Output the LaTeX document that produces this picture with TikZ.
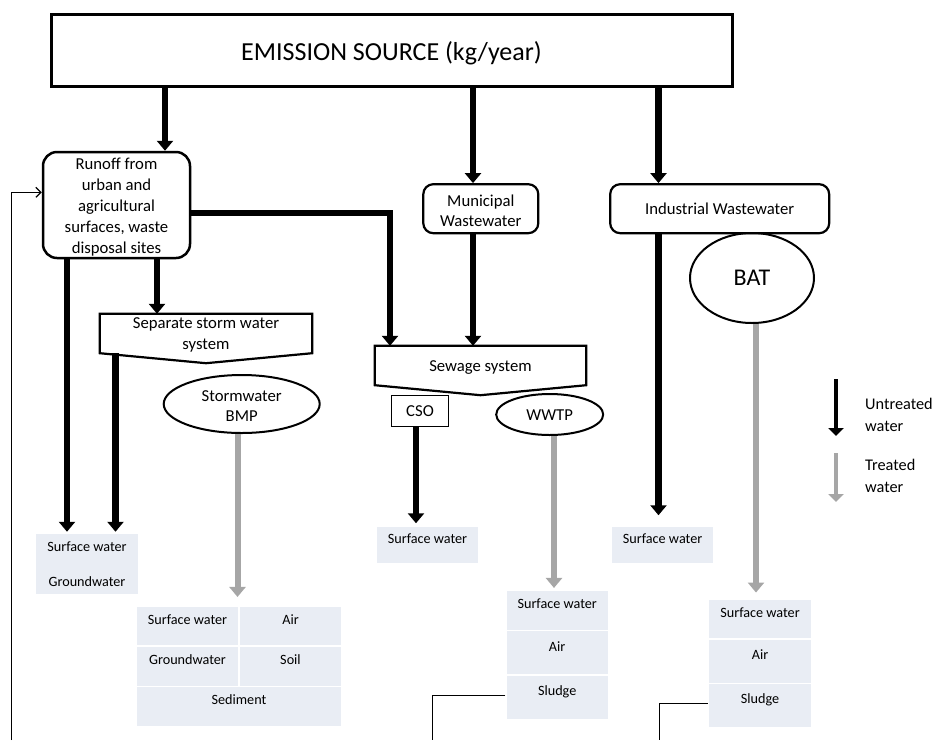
\documentclass[tikz,border=0pt]{standalone}
\usepackage{fontspec}
\setmainfont{Carlito}
\usetikzlibrary{arrows.meta,shapes.geometric,calc}
\definecolor{cellcol}{RGB}{233,237,244}
\definecolor{treat}{RGB}{166,166,166}
\begin{document}
\begin{tikzpicture}[x=1pt,y=-1pt,
  box/.style={draw, line width=2.2pt, inner sep=0pt, align=center, font=\fontsize{16.7}{21}\selectfont},
  rbox/.style={box, rounded corners=10pt},
  one/.style={text height=11pt, text depth=0pt},
  plain/.style={inner sep=0pt, align=center, font=\fontsize{16.7}{21}\selectfont},
  oval/.style={ellipse, draw, line width=2pt, inner sep=0pt, align=center, font=\fontsize{16.7}{20}\selectfont},
  cell/.style={fill=cellcol, draw=white, line width=1.5pt, inner sep=0pt, font=\fontsize{14.2}{17}\selectfont, text height=10pt, text depth=13.5pt},
  blk/.style={line width=6.7pt, -{Triangle[width=16pt,length=10pt]}},
  gry/.style={line width=6pt, treat, -{Triangle[width=16pt,length=10pt]}},
  legtip/.style={line width=4.3pt, -{Triangle[width=15pt,length=8pt]}},
  legtext/.style={inner sep=0pt, align=left, anchor=west, font=\fontsize{16.3}{22}\selectfont},
  thinline/.style={line width=1.2pt}
]
\useasboundingbox (0,0) rectangle (935,740);

% main boxes
\node[box, line width=3pt, minimum width=681pt, minimum height=72pt, font=\fontsize{26}{30}\selectfont, text height=20.8pt, text depth=0pt] (top) at (391.5,50) {EMISSION SOURCE (kg/year)};
\node[rbox, line width=2.5pt, rounded corners=14pt, minimum width=147pt, minimum height=106pt] (runoff) at (116.5,205) {};
\node[plain] (runoffT) at ([yshift=-2.5pt]runoff.center) {Runoff from\\urban and\\agricultural\\surfaces, waste\\disposal sites};
\node[rbox, minimum width=115pt, minimum height=49pt] (municipal) at (480.8,208.7) {};
\node[plain, font=\fontsize{16.7}{20.7}\selectfont] (municipalT) at ([yshift=-2pt]municipal.center) {Municipal\\Wastewater};
\node[rbox, one, minimum width=219pt, minimum height=49pt] (industrial) at (719.7,208.7) {Industrial Wastewater};

% pentagon-like boxes
\node[plain, minimum width=212pt, minimum height=39pt] (sep) at (206,333.5) {};
\node[plain] (sepT) at ([yshift=-1pt]sep.center) {Separate storm water\\system};
\draw[line width=2.2pt] (sep.north west) -- (sep.north east) -- (sep.south east) -- ($(sep.south)+(0,10)$) -- (sep.south west) -- cycle;
\node[plain, one, minimum width=211pt, minimum height=39pt] (sewage) at (480.5,365.5) {Sewage system};
\draw[line width=2.2pt] (sewage.north west) -- (sewage.north east) -- (sewage.south east) -- ($(sewage.south)+(0,10)$) -- (sewage.south west) -- cycle;

% treatment
\node[oval, minimum width=156pt, minimum height=58pt] (bmp) at (241.7,404) {};
\node[plain, font=\fontsize{16.7}{20}\selectfont] (bmpT) at ([yshift=-2pt]bmp.center) {Stormwater\\BMP};
\node[draw, one, line width=1.3pt, minimum width=56.6pt, minimum height=31pt, inner sep=0pt, font=\fontsize{16.7}{20}\selectfont] (cso) at (420,411.2) {CSO};
\node[oval, one, minimum width=107pt, minimum height=41pt] (wwtp) at (549.7,414.5) {WWTP};
\node[oval, minimum width=124pt, minimum height=90pt, font=\fontsize{24}{28}\selectfont, text height=15.5pt, text depth=0pt] (bat) at (752,278) {BAT};

% receiving compartments
\node[fill=cellcol, inner sep=0pt, minimum width=102pt, minimum height=60.5pt, align=center, font=\fontsize{14.2}{34.3}\selectfont] (leftcell) at (87,564.2) {Surface water\\Groundwater};
\node[cell, minimum width=101.8pt, minimum height=38pt] (csocell) at (427.5,545) {Surface water};
\node[cell, minimum width=101.8pt, minimum height=38pt] (indcell) at (662.6,545) {Surface water};

\node[cell, minimum width=103pt, minimum height=39.3pt] (bmpA) at (187.5,626.35) {Surface water};
\node[cell, minimum width=103pt, minimum height=39.3pt] (bmpB) at (290.5,626.35) {Air};
\node[cell, minimum width=103pt, minimum height=40.7pt] (bmpC) at (187.5,666.35) {Groundwater};
\node[cell, minimum width=103pt, minimum height=40.7pt] (bmpD) at (290.5,666.35) {Soil};
\node[cell, minimum width=206pt, minimum height=40pt] (bmpE) at (239,706.7) {Sediment};

\node[cell, minimum width=102.3pt, minimum height=40pt] (wwtpA) at (557.2,610.7) {Surface water};
\node[cell, minimum width=102.3pt, minimum height=44.3pt] (wwtpB) at (557.2,652.85) {Air};
\node[cell, minimum width=102.3pt, minimum height=44.3pt] (wwtpC) at (557.2,697.15) {Sludge};

\node[cell, minimum width=103.4pt, minimum height=39.7pt] (batA) at (760,619.15) {Surface water};
\node[cell, minimum width=103.4pt, minimum height=44.3pt] (batB) at (760,661.15) {Air};
\node[cell, minimum width=103.4pt, minimum height=44pt] (batC) at (760,705.3) {Sludge};

% column coordinates
\coordinate (xA) at (165,0);
\coordinate (xB) at (473,0);
\coordinate (xC) at (658.5,0);
\coordinate (xD) at (67,0);
\coordinate (xE) at (157,0);
\coordinate (xF) at (115.5,0);
\coordinate (xG) at (390,0);
\coordinate (xI) at (416,0);
\coordinate (xJ) at (237.5,0);
\coordinate (xK) at (554,0);
\coordinate (xL) at (756,0);

% untreated flows
\draw[blk] (top.south -| xA) -- (runoff.north -| xA);
\draw[blk] (top.south -| xB) -- (municipal.north -| xB);
\draw[blk] (top.south -| xC) -- (industrial.north -| xC);
\draw[blk, shorten >=2pt] (runoff.south -| xD) -- (leftcell.north -| xD);
\draw[blk] (runoff.south -| xE) -- (sep.north -| xE);
\draw[blk, shorten >=2pt] (sep.south -| xF) -- (leftcell.north -| xF);
\draw[blk] ([yshift=-8pt]runoff.east) -| (sewage.north -| xG);
\draw[blk] (municipal.south -| xB) -- (sewage.north -| xB);
\draw[blk, shorten >=2pt] (cso.south -| xI) -- (csocell.north -| xI);
\draw[blk, shorten >=10pt] (industrial.south -| xC) -- (indcell.north -| xC);

% treated flows
\draw[gry, shorten >=9pt] (bmp.south -| xJ) -- (bmpA.north -| xJ);
\draw[gry, shorten >=2pt] (wwtp.south -| xK) -- (wwtpA.north -| xK);
\draw[gry, shorten >=6pt] (bat.south -| xL) -- (batA.north -| xL);

% sludge / feedback lines
\coordinate (fb) at (11.7,740);
\draw[thinline, -{Straight Barb[length=5pt,width=10pt]}] (fb) |- ([yshift=12.7pt]runoff.west);
\coordinate (s1) at (432.7,740);
\coordinate (s2) at (659.3,740);
\draw[thinline] ([yshift=2pt]wwtpC.west) -| (s1);
\draw[thinline] ([yshift=2pt]batC.west) -| (s2);

% legend
\coordinate (lk1) at (836,379);
\coordinate (lk2) at (836,436);
\coordinate (lg1) at (836,453);
\coordinate (lg2) at (836,502);
\draw[legtip] (lk1) -- (lk2);
\draw[legtip, treat] (lg1) -- (lg2);
\node[legtext] (legU) at (865,415) {Untreated\\water};
\node[legtext] (legT) at (865,476) {Treated\\water};
\end{tikzpicture}
\end{document}
